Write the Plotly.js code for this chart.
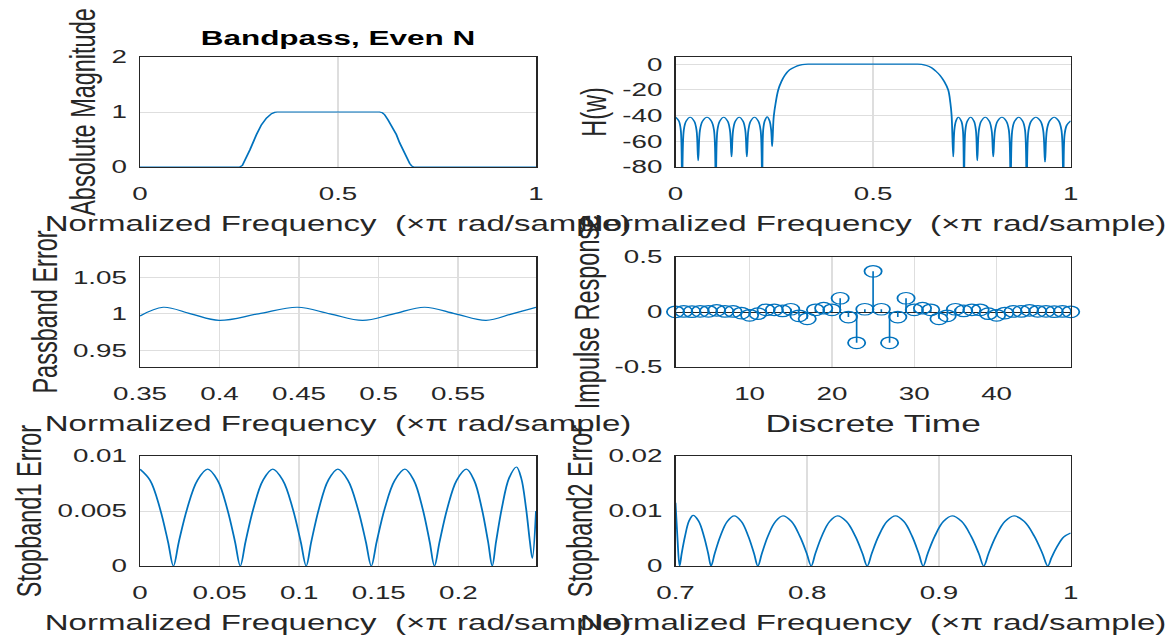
<!DOCTYPE html>
<html><head><meta charset="utf-8">
<script src="https://cdn.plot.ly/plotly-3.0.1.min.js"></script>
<style>
html,body{margin:0;padding:0;background:#fff;overflow:hidden;}
#wrap{width:782px;height:641px;transform:scale(1.5,1);transform-origin:0 0;}
#plot{width:782px;height:641px;}
</style></head><body>
<div id="wrap"><div id="plot"></div></div>
<script>
// ---------- data ----------
// Absolute magnitude (top-left)
const magF = [0, 0.2521, 0.2585, 0.2636, 0.2774, 0.2942, 0.3068, 0.3194, 0.3321, 0.3400, 0.3462, 0.45, 0.6051, 0.6120, 0.6178, 0.6261, 0.6387, 0.6473, 0.6556, 0.6639, 0.6725, 0.6808, 0.6860, 0.6909, 1];
const magA = [0, 0, 0.03, 0.1, 0.31, 0.59, 0.77, 0.89, 0.97, 0.993, 1.0, 1.0, 1.0, 0.985, 0.95, 0.86, 0.71, 0.59, 0.44, 0.31, 0.18, 0.07, 0.02, 0, 0];

// Magnitude in dB (top-right)
const dbF = [0, 0.0084, 0.0134, 0.0168,
  0.0209, 0.0269, 0.0371, 0.0472, 0.0533, 0.0573,
  0.0618, 0.0685, 0.0797, 0.0908, 0.0975, 0.102,
  0.106, 0.112, 0.1219, 0.1319, 0.1378, 0.1418,
  0.1457, 0.1515, 0.1612, 0.1708, 0.1766, 0.1805,
  0.1844, 0.1902, 0.1999, 0.2096, 0.2154, 0.2193,
  0.2218, 0.2256, 0.232, 0.2383, 0.2421, 0.2446,
  0.2485, 0.2535, 0.26, 0.268, 0.2767, 0.2885, 0.302, 0.315, 0.327, 0.34,
  0.4, 0.45, 0.5, 0.55, 0.6, 0.6228,
  0.635, 0.648, 0.659, 0.669, 0.68, 0.69, 0.6955, 0.6987, 0.7028,
  0.7055, 0.7096, 0.7155, 0.7232, 0.7273, 0.730,
  0.7334, 0.7384, 0.7468, 0.7552, 0.7602, 0.7636,
  0.7676, 0.7737, 0.7838, 0.7939, 0.8, 0.804,
  0.8084, 0.815, 0.826, 0.837, 0.8436, 0.848,
  0.8521, 0.8582, 0.8683, 0.8785, 0.8845, 0.8886,
  0.8932, 0.9002, 0.9118, 0.9234, 0.9304, 0.935,
  0.9396, 0.9466, 0.9582, 0.9697, 0.9767, 0.9813,
  0.9845, 0.99, 1.0];
const dbV = [-41.1, -44.1, -51.3, -95,
  -51.5, -44.3, -41.3, -44.3, -51.5, -75,
  -51.5, -44.3, -41.3, -44.3, -51.5, -95,
  -51.5, -44.3, -41.3, -44.3, -51.5, -72,
  -51.5, -44.3, -41.3, -44.3, -51.5, -72,
  -51.5, -44.3, -41.3, -44.3, -51.5, -95,
  -51.5, -44.3, -41.0, -44.3, -51.5, -64,
  -41, -30, -20, -13.5, -8.6, -4.5, -2.1, -0.7, -0.1, 0,
  0, 0, 0, 0, 0, -0.1,
  -1.0, -2.8, -5.5, -8.6, -13.5, -20, -30, -40, -72,
  -51.5, -44.3, -41.3, -44.3, -51.5, -95,
  -51.5, -44.3, -41.3, -44.3, -51.5, -75,
  -51.5, -44.3, -41.3, -44.3, -51.5, -72,
  -51.5, -44.3, -41.3, -44.3, -51.5, -95,
  -51.5, -44.3, -41.3, -44.3, -51.5, -95,
  -51.5, -44.3, -41.3, -44.3, -51.5, -76,
  -51.5, -44.3, -41.3, -44.3, -51.5, -95,
  -55, -47.5, -44];

// Passband error (middle-left)
const pbF = [0.35, 0.3646, 0.382, 0.3998, 0.4244, 0.449, 0.4695, 0.490, 0.5095, 0.5289, 0.5483, 0.5676, 0.584, 0.599];
const pbE = [0.997, 1.009, 1.0, 0.991, 1.0, 1.009, 1.0, 0.991, 1.0, 1.009, 1.0, 0.991, 1.0, 1.009];

// Impulse response (middle-right)
const nTime = [1,2,3,4,5,6,7,8,9,10,11,12,13,14,15,16,17,18,19,20,21,22,23,24,25,26,27,28,29,30,31,32,33,34,35,36,37,38,39,40,41,42,43,44,45,46,47,48,49];
const hImp = [0.002, 0.005, 0.003, 0.006, 0.006, 0.015, 0.005, 0.005, -0.01, -0.03, -0.015, 0.02, 0.02, 0.01, 0.025, -0.035, -0.062, 0.02, 0.035, 0.02, 0.125, -0.046, -0.28, 0.025,
  0.37,
  0.025, -0.28, -0.046, 0.125, 0.02, 0.035, 0.02, -0.062, -0.035, 0.025, 0.01, 0.02, 0.02, -0.015, -0.03, -0.01, 0.005, 0.005, 0.015, 0.006, 0.006, 0.003, 0.005, 0.002];

// Stopband 1 error (bottom-left)
const sb1F = [0, 0.0063, 0.0126, 0.0176, 0.021,
  0.0244, 0.0296, 0.0361, 0.0425, 0.0487, 0.0548, 0.0597, 0.063,
  0.0663, 0.0712, 0.0773, 0.0834, 0.0897, 0.096, 0.101, 0.1044,
  0.1076, 0.1124, 0.1183, 0.1243, 0.1306, 0.1369, 0.1419, 0.1453,
  0.1487, 0.1537, 0.1601, 0.1664, 0.172, 0.1776, 0.182, 0.185,
  0.1882, 0.193, 0.199, 0.205, 0.2099, 0.2148, 0.2187, 0.2213,
  0.2237, 0.2274, 0.2319, 0.2365, 0.2395, 0.2425, 0.2449, 0.2465, 0.2488];
const sb1E = [0.0088, 0.0078, 0.0052, 0.0022, 0,
  0.0022, 0.0052, 0.0078, 0.0088, 0.0078, 0.0052, 0.0022, 0,
  0.0022, 0.0052, 0.0078, 0.0088, 0.0078, 0.0052, 0.0022, 0,
  0.0022, 0.0052, 0.0078, 0.0088, 0.0078, 0.0052, 0.0022, 0,
  0.0022, 0.0052, 0.0078, 0.0088, 0.0078, 0.0052, 0.0022, 0,
  0.0022, 0.0052, 0.0078, 0.0088, 0.0078, 0.0052, 0.0022, 0,
  0.0022, 0.0053, 0.008, 0.009, 0.008, 0.0053, 0.0023, 0.0007, 0.005];

// Stopband 2 error (bottom-right)
const sb2F = [0.7, 0.7015, 0.7031,
  0.7047, 0.7072, 0.7103, 0.7134, 0.7175, 0.7216, 0.7248, 0.727,
  0.7298, 0.734, 0.7393, 0.7446, 0.75, 0.7553, 0.7596, 0.7625,
  0.7656, 0.7701, 0.7759, 0.7816, 0.788, 0.7944, 0.7996, 0.803,
  0.8062, 0.811, 0.817, 0.823, 0.8297, 0.8365, 0.8419, 0.8455,
  0.849, 0.8541, 0.8606, 0.867, 0.8733, 0.8796, 0.8846, 0.888,
  0.8915, 0.8968, 0.9034, 0.91, 0.9172, 0.9244, 0.9302, 0.934,
  0.9377, 0.9432, 0.9501, 0.957, 0.9647, 0.9724, 0.9785, 0.9826,
  0.9854, 0.9896, 0.9948, 1.0];
const sb2E = [0.0115, 0.005, 0,
  0.0023, 0.0054, 0.0082, 0.0092, 0.0082, 0.0054, 0.0023, 0,
  0.0023, 0.0054, 0.0081, 0.0091, 0.0081, 0.0054, 0.0023, 0,
  0.0023, 0.0054, 0.0081, 0.0091, 0.0081, 0.0054, 0.0023, 0,
  0.0023, 0.0054, 0.0081, 0.0091, 0.0081, 0.0054, 0.0023, 0,
  0.0023, 0.0054, 0.0081, 0.0091, 0.0081, 0.0054, 0.0023, 0,
  0.0023, 0.0054, 0.0081, 0.0091, 0.0081, 0.0054, 0.0023, 0,
  0.0023, 0.0054, 0.0081, 0.0091, 0.0081, 0.0054, 0.0023, 0,
  0.0015, 0.0035, 0.0053, 0.006];

// Tick labels
const tick01 = [0, 0.5, 1];
const tick01Text = ['0', '0.5', '1'];
const tickMag = [0, 1, 2];
const tickMagText = ['0', '1', '2'];
const tickDb = [-80, -60, -40, -20, 0];
const tickDbText = ['-80', '-60', '-40', '-20', '0'];
const tickPbX = [0.35, 0.4, 0.45, 0.5, 0.55];
const tickPbXText = ['0.35', '0.4', '0.45', '0.5', '0.55'];
const tickPbY = [0.95, 1, 1.05];
const tickPbYText = ['0.95', '1', '1.05'];
const tickN = [10, 20, 30, 40];
const tickNText = ['10', '20', '30', '40'];
const tickH = [-0.5, 0, 0.5];
const tickHText = ['-0.5', '0', '0.5'];
const tickSb1X = [0, 0.05, 0.1, 0.15, 0.2];
const tickSb1XText = ['0', '0.05', '0.1', '0.15', '0.2'];
const tickSb1Y = [0, 0.005, 0.01];
const tickSb1YText = ['0', '0.005', '0.01'];
const tickSb2X = [0.7, 0.8, 0.9, 1];
const tickSb2XText = ['0.7', '0.8', '0.9', '1'];
const tickSb2Y = [0, 0.01, 0.02];
const tickSb2YText = ['0', '0.01', '0.02'];

const freqLabel = 'Normalized Frequency\u00A0\u00A0(\u00D7\u03C0 rad/sample)';

// ---------- drawing ----------
const FONT = 'Liberation Sans, Arial, sans-serif';
const INK = '#262626';
const BLUE = '#0072BD';

const stemX = [], stemY = [];
nTime.forEach((n, i) => { stemX.push(n, n, null); stemY.push(0, hImp[i], null); });

const lineStyle = {color: BLUE, width: 1.2, shape: 'spline', smoothing: 1};

const traces = [
  {x: magF, y: magA, xaxis: 'x', yaxis: 'y', mode: 'lines', line: {color: BLUE, width: 1.2, shape: 'linear'}},
  {x: dbF, y: dbV, xaxis: 'x2', yaxis: 'y2', mode: 'lines', line: lineStyle},
  {x: pbF, y: pbE, xaxis: 'x3', yaxis: 'y3', mode: 'lines', line: lineStyle},
  {x: stemX, y: stemY, xaxis: 'x4', yaxis: 'y4', mode: 'lines', line: {color: BLUE, width: 1.1}},
  {x: nTime, y: hImp, xaxis: 'x4', yaxis: 'y4', mode: 'markers', cliponaxis: false,
   marker: {symbol: 'circle-open', size: 11.5, color: BLUE, line: {color: BLUE, width: 1.2}}},
  {x: sb1F, y: sb1E, xaxis: 'x5', yaxis: 'y5', mode: 'lines', line: lineStyle},
  {x: sb2F, y: sb2E, xaxis: 'x6', yaxis: 'y6', mode: 'lines', line: lineStyle}
];

const H = 641, W = 1173;
const colL = [140 / W, 536 / W];
const colR = [675.5 / W, 1070.7 / W];
const row1 = [1 - 167 / H, 1 - 57 / H];
const row2 = [1 - 367 / H, 1 - 257 / H];
const row3 = [1 - 566 / H, 1 - 456 / H];

function xax(domain, anchor, range, tv, tt, title, tsize) {
  return {
    domain: domain, anchor: anchor, range: range, tickvals: tv, ticktext: tt,
    showline: true, mirror: true, linecolor: INK, linewidth: 1,
    showgrid: true, gridcolor: '#dedede', gridwidth: 1, zeroline: false,
    ticks: 'outside', ticklen: 10, tickcolor: 'rgba(0,0,0,0)',
    tickfont: {family: FONT, size: 18.5, color: INK},
    title: {text: title, font: {family: FONT, size: tsize || 22, color: INK}, standoff: 12},
    fixedrange: true
  };
}
function yax(domain, anchor, range, tv, tt, title) {
  return {
    domain: domain, anchor: anchor, range: range, tickvals: tv, ticktext: tt,
    showline: true, mirror: true, linecolor: INK, linewidth: 1,
    showgrid: true, gridcolor: '#dedede', gridwidth: 1, zeroline: false,
    ticks: 'outside', ticklen: 4, tickcolor: 'rgba(0,0,0,0)',
    tickfont: {family: FONT, size: 18.5, color: INK},
    title: {text: title, font: {family: FONT, size: 23.5, color: INK}, standoff: 3},
    fixedrange: true
  };
}

const y4 = yax(row2, 'x4', [-0.5, 0.5], tickH, tickHText, 'Impulse Response');
y4.zeroline = true; y4.zerolinecolor = INK; y4.zerolinewidth = 1;

const layout = {
  width: 782, height: 641,
  margin: {l: 0, r: 0, t: 0, b: 0},
  paper_bgcolor: '#fff', plot_bgcolor: '#fff',
  showlegend: false,
  font: {family: FONT, color: INK},
  title: {text: '<b>Bandpass, Even N</b>', font: {family: FONT, size: 21, color: '#000'},
          xref: 'container', yref: 'container', x: 338 / W, xanchor: 'center', y: 1 - 38 / H, yanchor: 'middle'},
  xaxis: xax(colL, 'y', [0, 1], tick01, tick01Text, freqLabel),
  yaxis: yax(row1, 'x', [0, 2], tickMag, tickMagText, 'Absolute Magnitude'),
  xaxis2: xax(colR, 'y2', [0, 1], tick01, tick01Text, freqLabel),
  yaxis2: yax(row1, 'x2', [-80, 5.6], tickDb, tickDbText, 'H(w)'),
  xaxis3: xax(colL, 'y3', [0.35, 0.599], tickPbX, tickPbXText, freqLabel),
  yaxis3: yax(row2, 'x3', [0.927, 1.078], tickPbY, tickPbYText, 'Passband Error'),
  xaxis4: xax(colR, 'y4', [1, 49], tickN, tickNText, 'Discrete Time', 23.5),
  yaxis4: y4,
  xaxis5: xax(colL, 'y5', [0, 0.2488], tickSb1X, tickSb1XText, freqLabel),
  yaxis5: yax(row3, 'x5', [0, 0.01], tickSb1Y, tickSb1YText, 'Stopband1 Error'),
  xaxis6: xax(colR, 'y6', [0.7, 1], tickSb2X, tickSb2XText, freqLabel),
  yaxis6: yax(row3, 'x6', [0, 0.02], tickSb2Y, tickSb2YText, 'Stopband2 Error')
};

Plotly.newPlot('plot', traces, layout, {staticPlot: true, displayModeBar: false});
</script>
</body></html>
